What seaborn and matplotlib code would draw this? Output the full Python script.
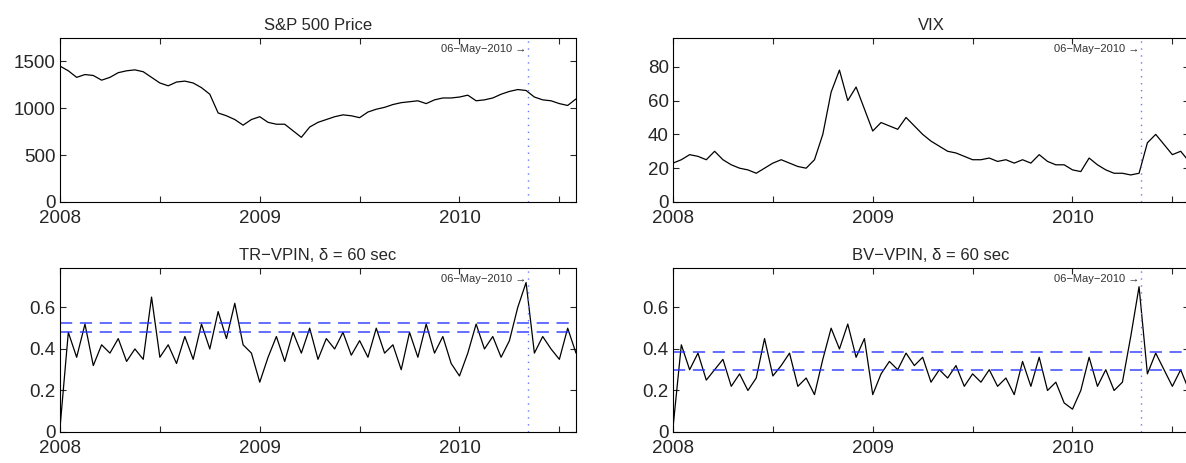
import numpy as np
import pandas as pd
import matplotlib
matplotlib.use("Agg")
import matplotlib.pyplot as plt
import seaborn as sns

sns.set_style("white")
plt.rcParams['font.family'] = ['Liberation Sans', 'DejaVu Sans']

step = 1 / 24.0
sp500 = [1450, 1400, 1330, 1360, 1350, 1300, 1330, 1380, 1400, 1410, 1390, 1330,
         1270, 1240, 1280, 1290, 1270, 1220, 1150, 950, 920, 880, 820, 880,
         910, 850, 830, 830, 760, 690, 800, 850, 880, 910, 930, 920,
         900, 960, 990, 1010, 1040, 1060, 1070, 1080, 1050, 1090, 1110, 1110,
         1120, 1140, 1080, 1090, 1110, 1150, 1180, 1200, 1190, 1120, 1090, 1080,
         1050, 1030, 1100]
vix = [23, 25, 28, 27, 25, 30, 25, 22, 20, 19, 17, 20,
       23, 25, 23, 21, 20, 25, 40, 65, 78, 60, 68, 55,
       42, 47, 45, 43, 50, 45, 40, 36, 33, 30, 29, 27,
       25, 25, 26, 24, 25, 23, 25, 23, 28, 24, 22, 22,
       19, 18, 26, 22, 19, 17, 17, 16, 17, 35, 40, 34,
       28, 30, 24]
tr_vpin = [0.02, 0.48, 0.36, 0.52, 0.32, 0.42, 0.38, 0.45, 0.34, 0.40, 0.35, 0.65,
           0.36, 0.42, 0.33, 0.46, 0.35, 0.52, 0.40, 0.58, 0.45, 0.62, 0.42, 0.38,
           0.24, 0.36, 0.46, 0.34, 0.48, 0.38, 0.50, 0.35, 0.45, 0.40, 0.48, 0.37,
           0.44, 0.36, 0.50, 0.38, 0.42, 0.30, 0.48, 0.36, 0.52, 0.38, 0.46, 0.33,
           0.27, 0.38, 0.52, 0.40, 0.46, 0.36, 0.44, 0.60, 0.72, 0.38, 0.46, 0.40,
           0.35, 0.50, 0.38]
bv_vpin = [0.02, 0.42, 0.30, 0.38, 0.25, 0.30, 0.35, 0.22, 0.28, 0.20, 0.26, 0.45,
           0.27, 0.32, 0.38, 0.22, 0.26, 0.18, 0.35, 0.50, 0.40, 0.52, 0.36, 0.45,
           0.18, 0.28, 0.34, 0.30, 0.38, 0.32, 0.36, 0.24, 0.30, 0.26, 0.32, 0.22,
           0.28, 0.24, 0.30, 0.22, 0.26, 0.18, 0.34, 0.22, 0.36, 0.20, 0.24, 0.14,
           0.11, 0.20, 0.36, 0.22, 0.30, 0.20, 0.24, 0.46, 0.70, 0.28, 0.38, 0.30,
           0.22, 0.30, 0.20]
tr_levels = [0.48, 0.525]
bv_levels = [0.30, 0.385]
flash_crash = 2010.345
titles = ["S&P 500 Price", "VIX", "TR\u2212VPIN, \u03b4 = 60 sec", "BV\u2212VPIN, \u03b4 = 60 sec"]
ylims = [(0, 1750), (0, 97), (0, 0.79), (0, 0.79)]
yticks = [[0, 500, 1000, 1500], [0, 20, 40, 60, 80], [0, 0.2, 0.4, 0.6], [0, 0.2, 0.4, 0.6]]
yticklabels = [["0", "500", "1000", "1500"], ["0", "20", "40", "60", "80"],
               ["0", "0.2", "0.4", "0.6"], ["0", "0.2", "0.4", "0.6"]]

fig = plt.figure(figsize=(11.86, 4.63), dpi=100)
W, H = 1186, 463
rects = [(60, 38, 516, 164), (673, 38, 516, 164), (60, 268, 516, 164), (673, 268, 516, 164)]
series = [sp500, vix, tr_vpin, bv_vpin]
levels = [None, None, tr_levels, bv_levels]
xend = 2008 + 62 * step
for k in range(4):
    x0, y0, w, h = rects[k]
    ax = fig.add_axes([x0 / W, 1 - (y0 + h) / H, w / W, h / H])
    vals = series[k]
    df = pd.DataFrame({"t": 2008 + np.arange(len(vals)) * step, "v": vals})
    sns.lineplot(data=df, x="t", y="v", ax=ax, color="black", lw=0.9)
    if levels[k]:
        for lv in levels[k]:
            ax.axhline(lv, color="#2233ff", lw=1.1, ls=(0, (8, 5)), alpha=0.9)
    ax.axvline(flash_crash, color="#6677ff", lw=1, ls=(0, (1, 4)))
    ax.set_xlim(2008, xend)
    ax.set_ylim(*ylims[k])
    ax.set_xticks([2008, 2008.5, 2009, 2009.5, 2010, 2010.5])
    ax.set_xticklabels(["2008", "", "2009", "", "2010", ""])
    ax.set_yticks(yticks[k])
    ax.set_yticklabels(yticklabels[k])
    ax.tick_params(direction="in", length=4, width=0.8, labelsize=13.5,
                   top=True, right=True, bottom=True, left=True)
    ax.tick_params(axis="x", pad=6)
    ax.tick_params(axis="y", pad=3)
    ax.set_xlabel("")
    ax.set_ylabel("")
    for s in ax.spines.values():
        s.set_color("black")
        s.set_linewidth(0.8)
    ax.set_title(titles[k], fontsize=12, pad=6)
    ax.text(flash_crash - 0.01, ylims[k][1] * 0.93, "06\u2212May\u22122010 \u2192",
            ha="right", va="center", fontsize=8, color="#333333")

fig.savefig("out.png", dpi=100)
